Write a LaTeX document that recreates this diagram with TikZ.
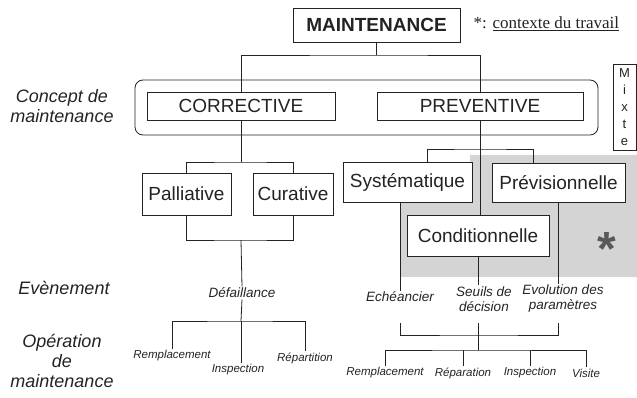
\documentclass[tikz,border=0pt]{standalone}
\usepackage{fontspec}
\setmainfont{Liberation Sans}
\newfontfamily\notefont{Liberation Serif}
\usepackage{xcolor}
\usetikzlibrary{positioning, calc}
\definecolor{inkcolor}{RGB}{35, 35, 35}
\definecolor{shadecolor}{RGB}{212, 212, 212}

\begin{document}
\begin{tikzpicture}[x=1pt, y=-1pt, line width=0.8pt, color=inkcolor,
    typebox/.style={draw, fill=white, inner sep=0pt, font=\fontsize{19}{22}\selectfont},
    levellabel/.style={font=\fontsize{18}{20}\selectfont\itshape, align=center},
    eventlabel/.style={font=\fontsize{13.5}{15}\selectfont\itshape, align=center, inner sep=1pt},
    oplabel/.style={font=\fontsize{11.5}{13}\selectfont\itshape, inner sep=1pt}]
        \useasboundingbox (0,0) rectangle (637,398);

        % Shaded work context
        \fill[shadecolor] (400,202) -- (470,202) -- (470,155) -- (637,155) -- (637,277) -- (400,277) -- cycle;

        % Main box
        \node[typebox, font=\fontsize{19}{22}\selectfont\bfseries, minimum width=167, minimum height=34] (maint) at (376.5,25) {MAINTENANCE};
        \node[anchor=west, font=\notefont\fontsize{17}{19}\selectfont] (note) at (470,24) {*: \underline{contexte du travail}};

        % Concept frame
        \node[draw, rounded corners=8pt, minimum width=463, minimum height=55] (concept) at (366.5,107.5) {};
        \node[typebox, minimum width=188, minimum height=28] (corr) at (241,106) {CORRECTIVE};
        \node[typebox, minimum width=206, minimum height=28] (prev) at (480,106) {PREVENTIVE};
        \node[draw, inner sep=0pt, minimum width=23, minimum height=86, align=center, font=\fontsize{13}{16.8}\selectfont] (mixte) at (624.5,107) {M\\i\\x\\t\\e};

        % Level labels
        \node[levellabel] (conceptlbl) at (62,106) {Concept de\\maintenance};
        \node[levellabel] (evlbl) at (64,288) {Evènement};
        \node[levellabel] (oplbl) at (62,361) {Opération\\de\\maintenance};

        % Corrective branch
        \coordinate (corbar) at (241,162);
        \coordinate (curbot) at (241,240);
        \coordinate (defbar) at (241,321);
        \node[typebox, minimum width=89, minimum height=42] (pall) at (186.5,194) {Palliative};
        \node[typebox, minimum width=80, minimum height=42] (cura) at (293,194) {Curative};
        \node[eventlabel] (defa) at (242,293) {Défaillance};
        \node[oplabel] (rempA) at (172,356) {Remplacement};
        \node[oplabel] (inspA) at (238,370) {Inspection};
        \node[oplabel] (repa) at (305,358) {Répartition};

        % Preventive branch
        \coordinate (prevbar) at (480,149);
        \node[typebox, minimum width=129, minimum height=40] (syst) at (407.5,182) {Systématique};
        \node[typebox, minimum width=133, minimum height=39] (previ) at (558.5,182.5) {Prévisionnelle};
        \node[typebox, minimum width=142, minimum height=41] (cond) at (478,235.5) {Conditionnelle};
        \node[anchor=base, font=\fontsize{48}{48}\selectfont\bfseries, text=gray!70!black] (star) at (607,265) {*};
        \node[eventlabel] (ech) at (400,297) {Echéancier};
        \node[eventlabel] (seuil) at (484,299) {Seuils de\\décision};
        \node[eventlabel] (evol) at (563,299) {Evolution des\\paramètres};
        \coordinate (evtop) at (478,323);
        \coordinate (evbar) at (478,335);
        \coordinate (opbar) at (478,350);
        \node[oplabel] (rempB) at (385,373) {Remplacement};
        \node[oplabel] (repb) at (463,373) {Réparation};
        \node[oplabel] (inspB) at (530,373) {Inspection};
        \node[oplabel] (visi) at (586,373) {Visite};

        % Connectors
        \coordinate (topbar) at (376.5,55);
        \draw (maint.south) -- (topbar);
        \draw (corr.north) |- (topbar) -| (prev.north);
        \draw (corr.south) -- (corbar);
        \draw (pall.north) |- (corbar) -| (cura.north);
        \draw (pall.south) |- (curbot) -| (cura.south);
        \draw (curbot) -- (defa.north);
        \draw (defa.south) -- (defbar);
        \draw (rempA.north) |- (defbar) -| (repa.north);
        \draw (defbar) -- (defbar |- inspA.north);
        \draw (prev.south) -- (prev.south |- cond.north);
        \draw ([xshift=19.5pt]syst.north) |- (prevbar) -| ([xshift=-25.5pt]previ.north);
        \draw (ech.north |- syst.south) -- (ech.north);
        \draw (cond.south) -- (cond.south |- seuil.north);
        \draw (previ.south) -- (previ.south |- evol.north);
        \draw (ech.south |- evtop) |- (evbar) -| (previ.south |- evtop);
        \draw (evtop) -- (opbar);
        \draw (rempB.north) |- (opbar) -| (visi.north);
        \draw (repb.north) -- (repb.north |- opbar);
        \draw (inspB.north) -- (inspB.north |- opbar);
    \end{tikzpicture}
\end{document}
